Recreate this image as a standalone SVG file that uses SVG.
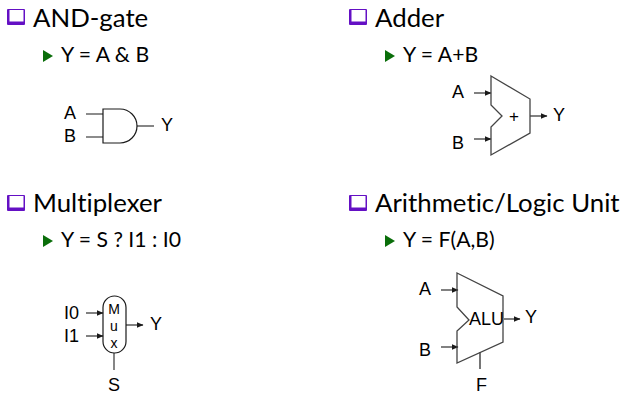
<svg xmlns="http://www.w3.org/2000/svg" width="641" height="420" viewBox="0 0 641 420">
<style>
.h{font:25.8px Lato,"Open Sans",sans-serif;fill:#000;font-variant-ligatures:none}
.s{font:21.2px Lato,"Open Sans",sans-serif;fill:#000;font-variant-ligatures:none}
.l{font:18px "Liberation Sans",Arial,sans-serif;fill:#000}
.c{stroke:#1a1a1a;stroke-width:1.2;fill:none}
.g{stroke:#444;stroke-width:1.3;fill:none}
.a{stroke:#1a1a1a;stroke-width:1.1;fill:none;marker-end:url(#arr)}
.boxs{fill:#6410c4}
.tri{fill:#0a6e0a}
</style>
<defs>
<marker id="arr" markerWidth="7" markerHeight="6" refX="6.500" refY="3" orient="auto" markerUnits="userSpaceOnUse"><path d="M0 0L7 3L0 6z" fill="#1a1a1a"/></marker>
<g id="bullet"><rect class="boxs" x="7" y="9" width="18" height="16" rx="1"/><rect x="9.500" y="10" width="14" height="11.500" fill="#fff"/></g>
<path id="tri" class="tri" d="M0 0L10 6L0 12z"/>
</defs>
<g id="and-gate-heading"><use href="#bullet"/><text class="h" x="33" y="27">AND-gate</text><use href="#tri" x="43" y="50"/><text class="s" x="61" y="62">Y = A &amp; B</text></g>
<g id="adder-heading"><use href="#bullet" x="342"/><text class="h" x="375" y="27">Adder</text><use href="#tri" x="385" y="50"/><text class="s" x="403" y="62">Y = A+B</text></g>
<g id="mux-heading"><use href="#bullet" x="0" y="186"/><text class="h" x="33" y="212">Multiplexer</text><use href="#tri" x="43" y="235"/><text class="s" x="61" y="247">Y = S ? I1 : I0</text></g>
<g id="alu-heading"><use href="#bullet" x="342" y="186"/><text class="h" x="375" y="212">Arithmetic/Logic Unit</text><use href="#tri" x="385" y="235"/><text class="s" x="403" y="247">Y = F(A,B)</text></g>
<g id="connectors">
<path class="c" d="M86 114H103M86 137H103"/><path class="g" d="M137 126H154"/>
<path class="a" d="M474 93H491"/><path class="a" d="M474 139H491"/><path class="a" d="M530 116H547"/>
<path class="a" d="M86 313H103"/><path class="a" d="M86 336H103"/><path class="a" d="M126 325H143"/><path class="g" d="M114 353V370"/>
<path class="a" d="M441 290H458"/><path class="a" d="M441 347H458"/><path class="a" d="M504 319H520"/><path class="c" d="M480 352V369"/>
</g>
<g id="and-gate"><path class="c" d="M103 109H120A17 17 0 0 1 120 143H103Z"/><text class="l" x="64" y="119">A</text><text class="l" x="64" y="142">B</text><text class="l" x="161" y="131">Y</text></g>
<g id="adder"><path class="g" d="M491 76L530 99V133L491 155V127L502 116L491 105Z"/><text class="l" x="452" y="98">A</text><text class="l" x="452" y="149">B</text><text class="l" x="553" y="121">Y</text><text x="514" y="122" font-family="Liberation Sans,sans-serif" font-size="17" text-anchor="middle">+</text></g>
<g id="mux"><rect class="c" x="103" y="296" width="23" height="57" rx="11.500"/><text class="l" x="64" y="319">I0</text><text class="l" x="64" y="342">I1</text><text class="l" x="150" y="330">Y</text><text class="l" x="108" y="391">S</text><g font-family="Liberation Sans,sans-serif" font-size="14" text-anchor="middle"><text x="114" y="314">M</text><text x="114" y="331">u</text><text x="114" y="348">x</text></g></g>
<g id="alu"><path class="g" d="M457 273L503 296V342L457 363V331L469 320L457 307Z"/><text class="l" x="419" y="295">A</text><text class="l" x="419" y="356">B</text><text class="l" x="525" y="323">Y</text><text class="l" x="476" y="391">F</text><text class="l" x="469" y="325" textLength="35">ALU</text></g>
</svg>
